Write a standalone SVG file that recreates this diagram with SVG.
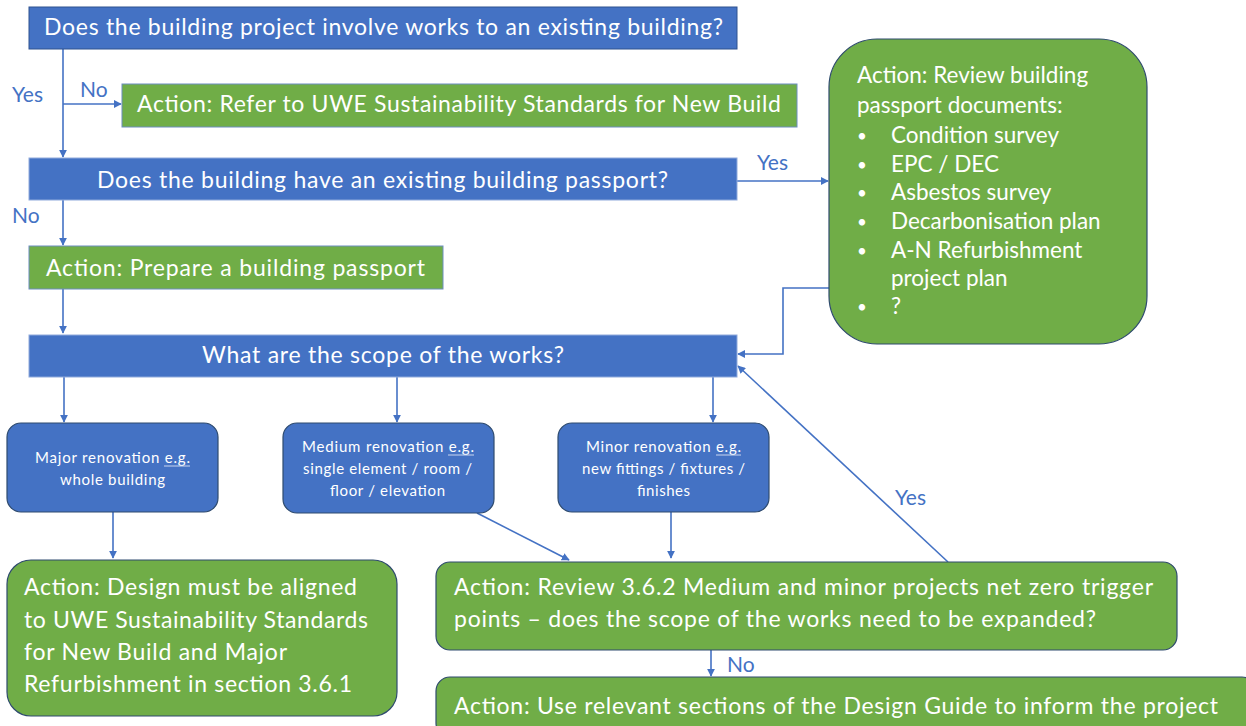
<svg xmlns="http://www.w3.org/2000/svg" width="1246" height="726" viewBox="0 0 1246 726">
  <defs>
    <marker id="arrow" viewBox="0 0 10 10" refX="9" refY="5" markerWidth="8" markerHeight="8" markerUnits="userSpaceOnUse" orient="auto">
      <path d="M0,0 L10,5 L0,10 z" fill="#4472C4"/>
    </marker>
    <style>
      .q { fill: #4472C4; stroke: #2F528F; stroke-width: 1; }
      .qs { fill: #4472C4; stroke: #8FAADC; stroke-width: 1; }
      .act { fill: #70AD47; stroke: #6C8EBF; stroke-width: 1; }
      .ract { fill: #70AD47; stroke: #2F4B6E; stroke-width: 1.2; }
      .rq { fill: #4472C4; stroke: #2F4B6E; stroke-width: 1.2; }
      text { font-family: Lato, "Liberation Sans", sans-serif; fill: #FFFFFF; }
      .big { font-size: 23px; }
      .mid { font-size: 23px; }
      .pp { font-size: 22.5px; }
      .bul { font-size: 17px; }
      .small { font-size: 15px; }
      .lbl { font-size: 21px; fill: #4472C4; }
      .ul { stroke: #C9D6F0; stroke-width: 1; }
      .conn { stroke: #4472C4; stroke-width: 1.6; fill: none; marker-end: url(#arrow); }
    </style>
  </defs>

  <!-- connectors and their labels -->
  <g id="connectors">
    <path class="conn" d="M63,49 V157"/>
    <path class="conn" d="M63,104 H121"/>
    <path class="conn" d="M737,181 H828"/>
    <path class="conn" d="M63,200 V245"/>
    <path class="conn" d="M63,289 V333"/>
    <path class="conn" d="M829,288 H783 V354 H738"/>
    <path class="conn" d="M64,377 V422"/>
    <path class="conn" d="M397,377 V422"/>
    <path class="conn" d="M713,377 V422"/>
    <path class="conn" d="M113,512 V558"/>
    <path class="conn" d="M477,513 L569,560"/>
    <path class="conn" d="M671,512 V558"/>
    <path class="conn" d="M948,562 L738,366"/>
    <path class="conn" d="M711,650 V676"/>
    <path class="conn" d="M235,677 V651"/>
    <text class="lbl" x="12" y="102">Yes</text>
    <text class="lbl" x="80" y="97">No</text>
    <text class="lbl" x="757" y="170">Yes</text>
    <text class="lbl" x="12" y="223">No</text>
    <text class="lbl" x="895" y="505">Yes</text>
    <text class="lbl" x="727" y="672">No</text>
  </g>

  <g id="q-existing">
    <rect class="q" x="29" y="7" width="708" height="42"/>
    <text class="big" x="44" y="35" textLength="679">Does the building project involve works to an existing building?</text>
  </g>

  <g id="a-newbuild">
    <rect class="act" x="122" y="84" width="675" height="43"/>
    <text class="big" x="137" y="112" textLength="644">Action: Refer to UWE Sustainability Standards for New Build</text>
  </g>

  <g id="q-passport">
    <rect class="qs" x="29" y="158" width="708" height="42"/>
    <text class="big" x="97" y="188" textLength="571">Does the building have an existing building passport?</text>
  </g>

  <g id="a-prepare">
    <rect class="act" x="29" y="246" width="414" height="43"/>
    <text class="big" x="46" y="276" textLength="379">Action: Prepare a building passport</text>
  </g>

  <g id="a-review-passport">
    <rect class="ract" x="829" y="39" width="318" height="305" rx="48" ry="48"/>
    <g class="pp">
      <text x="857" y="83">Action: Review building</text>
      <text x="857" y="113">passport documents:</text>
    </g>
    <g class="bul">
      <text x="857" y="142">•</text>
      <text x="857" y="171">•</text>
      <text x="857" y="199">•</text>
      <text x="857" y="228">•</text>
      <text x="857" y="257">•</text>
      <text x="857" y="313">•</text>
    </g>
    <g class="pp">
      <text x="891" y="143">Condition survey</text>
      <text x="891" y="172">EPC / DEC</text>
      <text x="891" y="200">Asbestos survey</text>
      <text x="891" y="229">Decarbonisation plan</text>
      <text x="891" y="258">A-N Refurbishment</text>
      <text x="891" y="286">project plan</text>
      <text x="891" y="314">?</text>
    </g>
  </g>

  <g id="q-scope">
    <rect class="qs" x="29" y="335" width="708" height="42"/>
    <text class="big" x="202" y="363" textLength="362">What are the scope of the works?</text>
  </g>

  <g id="major">
    <rect class="rq" x="7" y="423" width="211" height="89" rx="14" ry="14"/>
    <text class="small" x="35" y="463" textLength="155">Major renovation e.g.</text>
    <line class="ul" x1="164" y1="466" x2="190" y2="466"/>
    <text class="small" x="60" y="485" textLength="105">whole building</text>
  </g>

  <g id="medium">
    <rect class="rq" x="283" y="423" width="211" height="90" rx="14" ry="14"/>
    <text class="small" x="302" y="452" textLength="172">Medium renovation e.g.</text>
    <line class="ul" x1="448" y1="455" x2="474" y2="455"/>
    <text class="small" x="303" y="474" textLength="169">single element / room /</text>
    <text class="small" x="330" y="496" textLength="115">floor / elevation</text>
  </g>

  <g id="minor">
    <rect class="rq" x="558" y="423" width="211" height="89" rx="14" ry="14"/>
    <text class="small" x="586" y="452" textLength="155">Minor renovation e.g.</text>
    <line class="ul" x1="716" y1="455" x2="741" y2="455"/>
    <text class="small" x="582" y="474" textLength="163">new fittings / fixtures /</text>
    <text class="small" x="637" y="496" textLength="53">finishes</text>
  </g>

  <g id="a-major">
    <rect class="ract" x="7" y="560" width="390" height="156" rx="24" ry="24"/>
    <text class="mid" x="24" y="595" textLength="333">Action: Design must be aligned</text>
    <text class="mid" x="24" y="628" textLength="344">to UWE Sustainability Standards</text>
    <text class="mid" x="24" y="660" textLength="263">for New Build and Major</text>
    <text class="mid" x="24" y="692" textLength="328">Refurbishment in section 3.6.1</text>
  </g>

  <g id="a-triggers">
    <rect class="ract" x="436" y="562" width="741" height="88" rx="14" ry="14"/>
    <text class="big" x="454" y="595" textLength="699">Action: Review 3.6.2 Medium and minor projects net zero trigger</text>
    <text class="big" x="454" y="627" textLength="642">points – does the scope of the works need to be expanded?</text>
  </g>

  <g id="a-guide">
    <rect class="ract" x="436" y="677" width="820" height="60" rx="14" ry="14"/>
    <text class="big" x="454" y="714" textLength="764">Action: Use relevant sections of the Design Guide to inform the project</text>
  </g>
</svg>
